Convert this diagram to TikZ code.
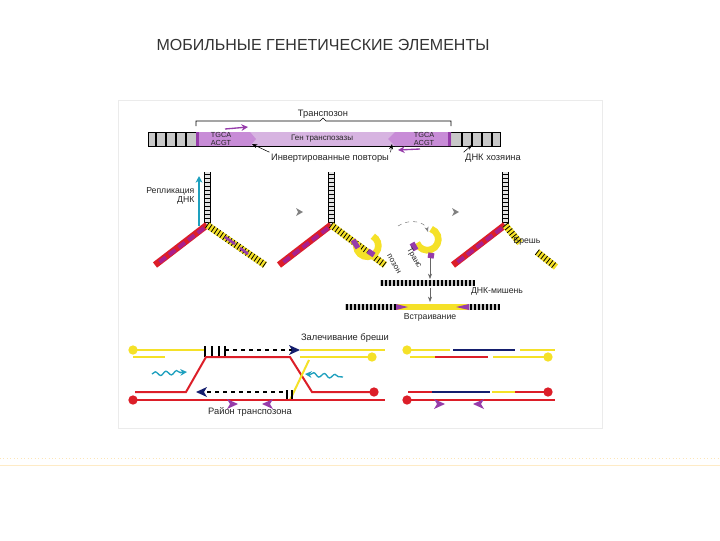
\documentclass[tikz,border=0pt]{standalone}
\usepackage{fontspec}
\setmainfont{Liberation Sans}
\usetikzlibrary{arrows.meta,decorations.pathmorphing}
\definecolor{mag}{RGB}{170,30,140}
\definecolor{pur}{RGB}{150,60,170}
\definecolor{lpur}{RGB}{200,140,215}
\definecolor{lav}{RGB}{215,180,225}
\definecolor{yel}{RGB}{245,225,40}
\definecolor{rd}{RGB}{220,30,40}
\definecolor{nav}{RGB}{20,30,110}
\definecolor{cy}{RGB}{30,160,190}
\definecolor{gr}{RGB}{200,200,200}
\tikzset{
 lbl/.style={font=\fontsize{7}{8}\selectfont,text=black!85,inner sep=1pt},
 marm/.style={line width=5pt,draw=rd},
 marmtop/.style={line width=3pt,draw=mag,dash pattern=on 6pt off 3pt},
 yarm/.style={line width=5pt,draw=yel},
 yarmtop/.style={line width=5pt,draw=black,dash pattern=on 0.6pt off 2pt},
 ln/.style={line width=1pt},
 dot/.style={circle,inner sep=0pt,minimum size=7pt},
 tip/.style={-{Stealth[length=5pt,width=5pt]}},
}
\begin{document}
\begin{tikzpicture}[x=0.75pt,y=-0.75pt]
\useasboundingbox (0,0) rectangle (720,540);
\fill[white] (0,0) rectangle (720,540);
\draw[yellow!30!orange!25,line width=0.6pt,dotted] (0,458)--(720,458);
\draw[yellow!30!orange!20,line width=0.4pt] (0,465)--(720,465);
\node[font=\fontsize{12}{14}\selectfont,text=black!80] (title) at (323,45) {МОБИЛЬНЫЕ ГЕНЕТИЧЕСКИЕ ЭЛЕМЕНТЫ};
\draw[black!8,fill=white] (118,100) rectangle (602,428);
% top bar
\node[lbl] (tr) at (323,114) {Транспозон};
\draw (196,126) -- (196,121) -- (320,121) -- (323,118) -- (326,121) -- (451,121) -- (451,126);
\fill[gr] (148,132) rectangle (500,146);
\foreach \x in {156,166,176,186,462,472,482,492} \draw[line width=0.8pt] (\x,132)--(\x,146);
\draw (148,132) rectangle (500,146);
\fill[lav] (196,132) rectangle (451,146);
\fill[lpur] (196,132) -- (250,132) -- (256,139) -- (250,146) -- (196,146) -- cycle;
\fill[lpur] (451,132) -- (395,132) -- (388,139) -- (395,146) -- (451,146) -- cycle;
\fill[pur] (196,132) rectangle (199,146);
\fill[pur] (448,132) rectangle (451,146);
\node[lbl,font=\fontsize{5.5}{5.5}\selectfont,align=center] (ir1) at (221,139) {TGCA\\ACGT};
\node[lbl,font=\fontsize{5.5}{5.5}\selectfont,align=center] (ir2) at (424,139) {TGCA\\ACGT};
\node[lbl,font=\fontsize{6}{7}\selectfont] (gene) at (322,139) {Ген транспозазы};
\draw[pur,line width=1pt,tip] (225,129) -- (248,127);
\draw[pur,line width=1pt,tip] (420,149) -- (398,150);
\node[lbl] (inv) at (330,158) {Инвертированные повторы};
\node[lbl] (host) at (493,158) {ДНК хозяина};
\draw[-{Stealth[length=4pt]}] (inv.north west) -- (252,144);
\draw[-{Stealth[length=4pt]}] (inv.north east) -- (392,144);
\draw[-{Stealth[length=4pt]}] (host.north west) -- (472,145);
% forks
\foreach \fx in {207,331,505}{
  \fill[gr!50] (\fx-3,172) rectangle (\fx+3,225);
  \foreach \y in {174,178,...,222} \draw[line width=0.6pt] (\fx-3,\y)--(\fx+3,\y);
  \draw[line width=0.6pt] (\fx-3,172)--(\fx-3,225) (\fx+3,172)--(\fx+3,225);
  \draw[marm] (\fx,225) -- (\fx-52,265);
  \draw[marmtop] (\fx-3,228) -- (\fx-50,264);
}
\draw[yarm] (207,225) -- (265,265);
\draw[yarmtop] (207,225) -- (265,265);
\draw[pur,line width=2pt] (225,237)--(235,244) (240,248)--(248,254);
\draw[yarm] (331,225) -- (385,265);
\draw[yarmtop] (331,225) -- (385,265);
\draw[yel,line width=5pt] (357,242) arc[start angle=200,end angle=-60,radius=11];
\draw[pur,line width=4pt] (353,240) -- (358,248);
\draw[pur,line width=4pt] (368,251) -- (374,255);
\draw[yarm] (505,225) -- (520,243);
\draw[yarmtop] (505,225) -- (520,243);
\draw[yarm] (537,252) -- (556,267);
\draw[yarmtop] (537,252) -- (556,267);
\node[lbl,font=\fontsize{6.5}{7}\selectfont] (gap) at (527,241) {Брешь};
% replication
\draw[cy,line width=1pt,tip] (199,226) -- (199,176);
\node[lbl,align=right,anchor=east,font=\fontsize{6.5}{7}\selectfont] (rep) at (196,196) {Репликация\\ДНК};
\fill[gray] (303,212) -- (296,208) -- (298,212) -- (296,216) -- cycle;
\fill[gray] (459,212) -- (452,208) -- (454,212) -- (452,216) -- cycle;
% free transposon
\draw[gray,dashed,-{Stealth[length=4pt]}] (398,226) .. controls (410,218) and (425,222) .. (428,232);
\draw[yel,line width=5pt] (417,243) arc[start angle=160,end angle=-70,radius=11];
\draw[pur,line width=4pt] (412,243) -- (416,250);
\draw[pur,line width=4pt] (428,255) -- (434,256);
\node[lbl,rotate=-60,inner sep=0pt,font=\fontsize{6}{6}\selectfont] (tp1) at (414,258) {Транс};
\node[lbl,rotate=-60,inner sep=0pt,font=\fontsize{6}{6}\selectfont] (tp2) at (394,264) {позон};
\draw[gray!80!black,-{Stealth[length=4pt]}] (430,258) -- (430,279);
\fill[gr] (380,280) rectangle (475,286);
\foreach \x in {382,386,...,474} \draw[line width=0.8pt] (\x,280)--(\x,286);
\node[lbl,font=\fontsize{6.5}{7}\selectfont] (tgt) at (497,291) {ДНК-мишень};
\draw[gray!80!black,-{Stealth[length=4pt]}] (430,288) -- (430,302);
\fill[gr] (345,304) rectangle (500,310);
\foreach \x in {347,351,...,499} \draw[line width=0.8pt] (\x,304)--(\x,310);
\fill[yel] (396,304) rectangle (469,310);
\fill[pur] (396,304) -- (408,307) -- (396,310) -- cycle;
\fill[pur] (469,304) -- (456,307) -- (469,310) -- cycle;
\node[lbl,font=\fontsize{6.5}{7}\selectfont] (ins) at (430,317) {Встраивание};
% bottom
\node[lbl] (heal) at (345,338) {Залечивание бреши};
\draw[yel,ln] (133,350) -- (205,350);
\draw[black,ln,dashed] (225,350) -- (292,350);
\draw[yel,ln] (300,350) -- (385,350);
\foreach \x in {205,212,219,225} \draw[line width=1pt] (\x,346)--(\x,357);
\fill[nav] (300,350) -- (289,345) -- (292,350) -- (289,355) -- cycle;
\node[dot,fill=yel] (d1) at (133,350) {};
\draw[yel,ln] (133,357) -- (165,357);
\draw[rd,line width=1.5pt] (135,392) -- (186,392) -- (206,357) -- (290,357) -- (312,392) -- (372,392);
\draw[yel,line width=1.5pt] (309,360) -- (290,400);
\draw[yel,ln] (300,357) -- (372,357);
\node[dot,fill=yel] (d2) at (372,357) {};
\node[dot,fill=rd] (d3) at (374,392) {};
\draw[cy,ln,decorate,decoration={snake,amplitude=1.5pt,segment length=8pt,post length=4pt},tip] (152,374) -- (187,372);
\draw[cy,ln,decorate,decoration={snake,amplitude=1.5pt,segment length=8pt,pre length=4pt},{Stealth[length=5pt,width=5pt]}-] (305,374) -- (343,377);
\draw[black,ln,dashed] (207,392) -- (285,392);
\fill[nav] (196,392) -- (207,387) -- (204,392) -- (207,397) -- cycle;
\draw[line width=1pt] (287,390)--(287,400) (292,390)--(292,400);
\draw[rd,ln] (133,400) -- (385,400);
\node[dot,fill=rd] (d4) at (133,400) {};
\fill[pur] (238,404) -- (227,399) -- (230,404) -- (227,409) -- cycle;
\fill[pur] (262,404) -- (273,399) -- (270,404) -- (273,409) -- cycle;
\node[lbl] (reg) at (250,412) {Район транспозона};
% right panel
\draw[yel,ln] (407,350) -- (450,350);
\draw[nav,ln] (453,350) -- (515,350);
\draw[yel,ln] (520,350) -- (555,350);
\node[dot,fill=yel] (e1) at (407,350) {};
\draw[yel,ln] (410,357) -- (435,357);
\draw[rd,ln] (435,357) -- (488,357);
\draw[yel,ln] (493,357) -- (548,357);
\node[dot,fill=yel] (e2) at (548,357) {};
\draw[rd,line width=1.5pt] (408,392) -- (432,392);
\draw[nav,line width=1.5pt] (432,392) -- (490,392);
\draw[yel,line width=1.5pt] (492,392) -- (515,392);
\draw[rd,line width=1.5pt] (515,392) -- (548,392);
\node[dot,fill=rd] (e3) at (548,392) {};
\draw[rd,ln] (407,400) -- (555,400);
\node[dot,fill=rd] (e4) at (407,400) {};
\fill[pur] (445,404) -- (434,399) -- (437,404) -- (434,409) -- cycle;
\fill[pur] (473,404) -- (484,399) -- (481,404) -- (484,409) -- cycle;
\end{tikzpicture}
\end{document}
